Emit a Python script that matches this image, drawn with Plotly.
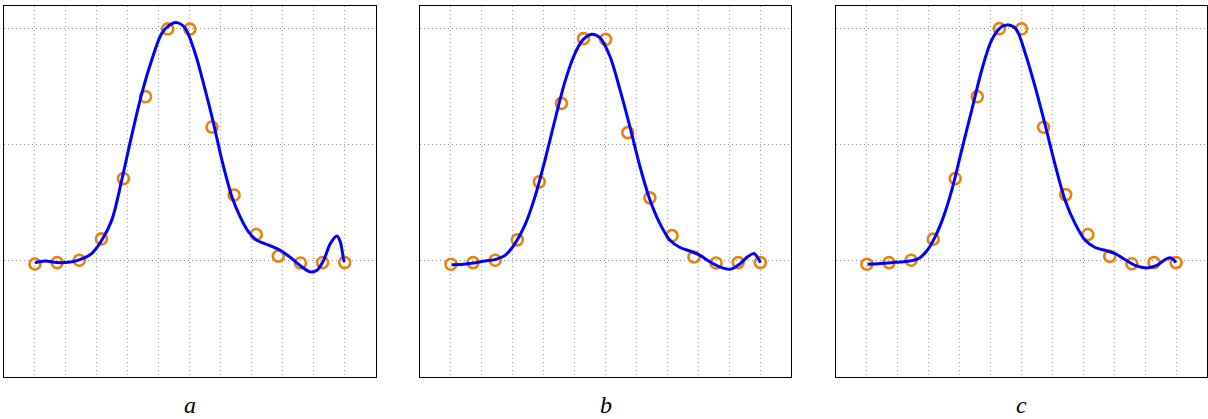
import plotly.graph_objects as go

# ---- data ----
x_points = [-1.0, -0.857, -0.714, -0.571, -0.429, -0.286, -0.143, 0.0,
            0.143, 0.286, 0.429, 0.571, 0.714, 0.857, 1.0]

a_points = [-0.013, -0.007, 0.003, 0.095, 0.355, 0.708, 1.0, 0.999,
            0.577, 0.284, 0.114, 0.021, -0.009, -0.007, -0.007]
b_points = [-0.014, -0.007, 0.003, 0.091, 0.341, 0.679, 0.958, 0.955,
            0.553, 0.272, 0.109, 0.017, -0.009, -0.007, -0.007]
c_points = [-0.014, -0.007, 0.003, 0.094, 0.355, 0.708, 1.001, 1.0,
            0.576, 0.286, 0.114, 0.020, -0.012, -0.007, -0.007]

a_curve_x = [-1.0, -0.935, -0.86, -0.785, -0.71, -0.634, -0.569, -0.504, -0.44,
             -0.375, -0.31, -0.246, -0.181, -0.116, -0.084, -0.03, 0.034, 0.099,
             0.153, 0.207, 0.272, 0.325, 0.379, 0.433, 0.509, 0.584, 0.659, 0.724,
             0.778, 0.821, 0.864, 0.907, 0.95, 0.972, 0.994, 1.0]
a_curve_y = [-0.008, 0.0, -0.007, -0.006, 0.006, 0.032, 0.089, 0.176, 0.348,
             0.542, 0.722, 0.866, 0.981, 1.022, 1.027, 1.003, 0.895, 0.737,
             0.593, 0.435, 0.276, 0.19, 0.125, 0.089, 0.068, 0.046, 0.01, -0.026,
             -0.047, -0.04, 0.003, 0.075, 0.108, 0.082, 0.003, -0.004]

b_curve_x = [-0.996, -0.92, -0.856, -0.78, -0.716, -0.651, -0.586, -0.522, -0.457,
             -0.392, -0.328, -0.263, -0.198, -0.144, -0.09, -0.037, 0.028, 0.093,
             0.157, 0.222, 0.287, 0.351, 0.416, 0.481, 0.545, 0.61, 0.675, 0.739,
             0.804, 0.869, 0.922, 0.959, 0.987, 1.0]
b_curve_y = [-0.016, -0.014, -0.009, 0.0, 0.006, 0.024, 0.075, 0.154, 0.276,
             0.435, 0.607, 0.773, 0.895, 0.955, 0.977, 0.962, 0.881, 0.737,
             0.578, 0.406, 0.262, 0.161, 0.089, 0.058, 0.043, 0.024, -0.004,
             -0.026, -0.036, -0.012, 0.02, 0.032, 0.01, -0.007]

c_curve_x = [-0.996, -0.927, -0.862, -0.786, -0.72, -0.667, -0.613, -0.559, -0.505,
             -0.451, -0.387, -0.322, -0.257, -0.192, -0.127, -0.084, -0.035, 0.024,
             0.088, 0.153, 0.218, 0.282, 0.347, 0.412, 0.476, 0.541, 0.606, 0.67,
             0.735, 0.81, 0.875, 0.929, 0.961, 0.983, 0.998]
c_curve_y = [-0.014, -0.012, -0.009, -0.004, 0.0, 0.01, 0.043, 0.104, 0.19,
             0.305, 0.478, 0.65, 0.823, 0.953, 1.01, 1.017, 1.0, 0.895,
             0.751, 0.586, 0.413, 0.262, 0.161, 0.089, 0.058, 0.046, 0.032, 0.006,
             -0.019, -0.03, -0.019, 0.006, 0.014, 0.006, -0.007]

panel_labels = ["a", "b", "c"]
grid_x = [-1.0, -0.8, -0.6, -0.4, -0.2, 0.0, 0.2, 0.4, 0.6, 0.8, 1.0]
grid_y = [0.0, 0.5, 1.0]

# ---- styling ----
ORANGE = "#E8820C"
BLUE = "#0000FF"
W, H = 1208, 419
domains = [(4 / W, 375.7 / W), (420 / W, 791.3 / W), (836 / W, 1207 / W)]
ydom = (1 - 377 / H, 1 - 5.7 / H)

fig = go.Figure()
series = [(a_points, a_curve_x, a_curve_y), (b_points, b_curve_x, b_curve_y),
          (c_points, c_curve_x, c_curve_y)]

for i, (pts, cx, cy) in enumerate(series):
    xa = "x" if i == 0 else f"x{i+1}"
    ya = "y" if i == 0 else f"y{i+1}"
    fig.add_trace(go.Scatter(
        x=x_points, y=pts, xaxis=xa, yaxis=ya, mode="markers",
        marker=dict(symbol="circle-open", size=11, color=ORANGE,
                    line=dict(width=2.6, color=ORANGE)),
        showlegend=False, hoverinfo="skip"))
    fig.add_trace(go.Scatter(
        x=cx, y=cy, xaxis=xa, yaxis=ya, mode="lines",
        line=dict(color=BLUE, width=3, shape="spline", smoothing=0.9),
        showlegend=False, hoverinfo="skip"))

layout = dict(width=W, height=H, margin=dict(l=0, r=0, t=0, b=0),
              paper_bgcolor="white", plot_bgcolor="white", showlegend=False)
annotations = []
for i, (d0, d1) in enumerate(domains):
    sfx = "" if i == 0 else str(i + 1)
    layout["xaxis" + sfx] = dict(
        domain=[d0, d1], range=[-1.2, 1.2], tickvals=grid_x,
        showticklabels=False, ticks="", showgrid=True, gridcolor="#9a9a9a",
        griddash="1px,3px", gridwidth=1, zeroline=False, showline=True,
        linecolor="black", linewidth=1.3, mirror=True,
        anchor="y" + sfx)
    layout["yaxis" + sfx] = dict(
        domain=list(ydom), range=[-0.5, 1.1], tickvals=grid_y,
        showticklabels=False, ticks="", showgrid=True, gridcolor="#8a8a8a",
        griddash="1px,3px", gridwidth=1, zeroline=False, showline=True,
        linecolor="black", linewidth=1.3, mirror=True,
        anchor="x" + sfx)
    annotations.append(dict(
        text=f"<i>{panel_labels[i]}</i>", xref="paper", yref="paper",
        x=(d0 + d1) / 2, y=1 - 405 / H, xanchor="center", yanchor="middle",
        showarrow=False,
        font=dict(family="Liberation Serif", size=24, color="black")))
layout["annotations"] = annotations
fig.update_layout(**layout)

fig.write_html("out.html")
